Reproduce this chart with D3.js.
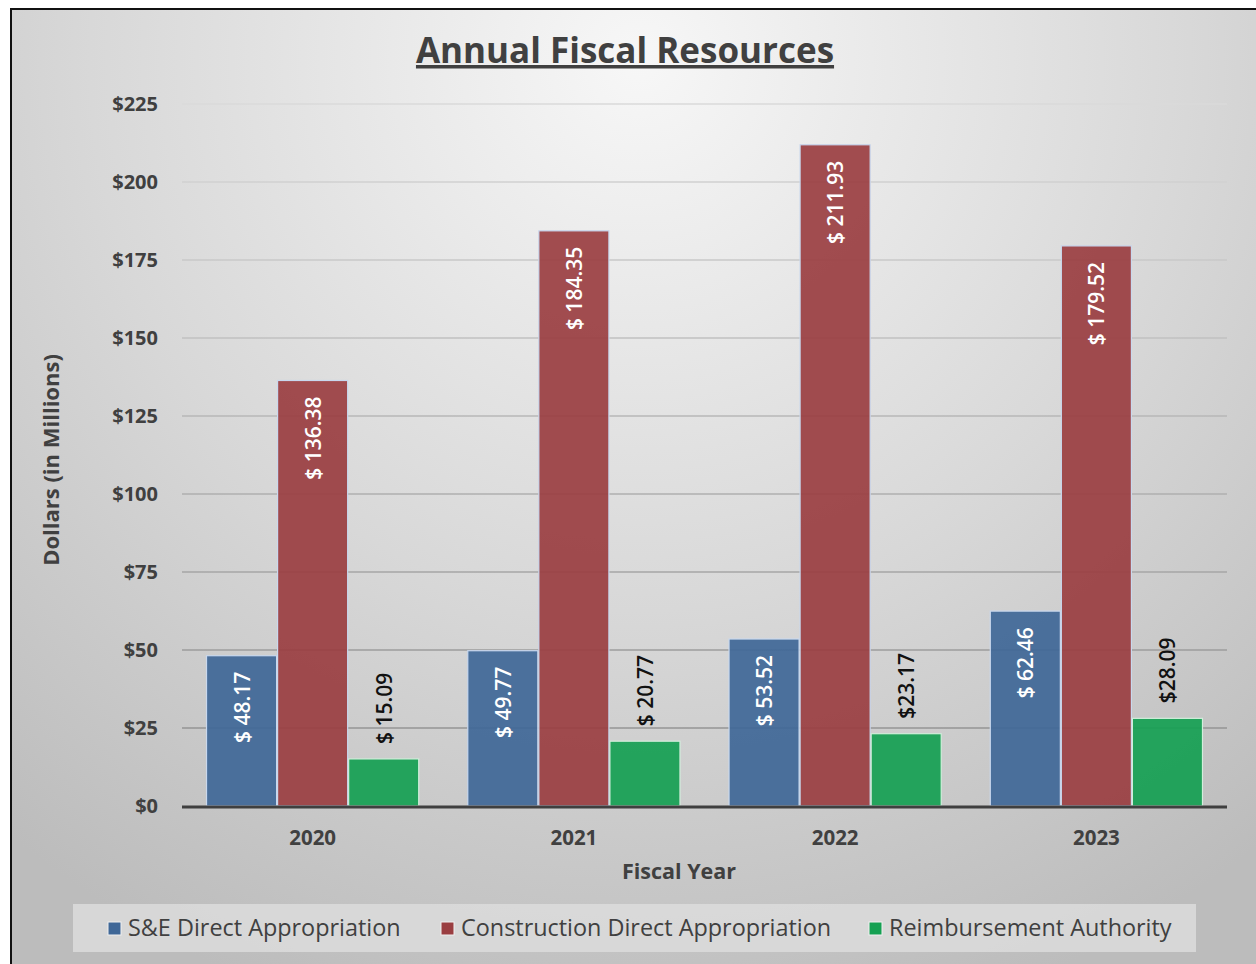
<!DOCTYPE html>
<html><head><meta charset="utf-8">
<script src="https://cdn.jsdelivr.net/npm/d3@7"></script>
<style>html,body{margin:0;padding:0;background:#fff;}svg{display:block;}</style>
</head><body>
<svg id="c" width="1256" height="964"></svg>
<script>
const years = ["2020","2021","2022","2023"];
const seriesNames = ["S&E Direct Appropriation","Construction Direct Appropriation","Reimbursement Authority"];
const seValues = [48.17, 49.77, 53.52, 62.46];
const constructionValues = [136.38, 184.35, 211.93, 179.52];
const reimbursementValues = [15.09, 20.77, 23.17, 28.09];
const seLabels = ["$ 48.17","$ 49.77","$ 53.52","$ 62.46"];
const constructionLabels = ["$ 136.38","$ 184.35","$ 211.93","$ 179.52"];
const reimbursementLabels = ["$ 15.09","$ 20.77","$23.17","$28.09"];
const yTicks = [0,25,50,75,100,125,150,175,200,225];
const colors = ["#3f6797","#9a3e41","#15a052"];

const svg = d3.select("#c");
const font = "'Open Sans', 'DejaVu Sans', sans-serif";
const txt = "#404040";

// background
const defs = svg.append("defs");
const rg = defs.append("radialGradient").attr("id","bg")
  .attr("gradientUnits","userSpaceOnUse").attr("cx",640).attr("cy",60).attr("r",1000);
rg.append("stop").attr("offset","0").attr("stop-color","#f7f7f7");
rg.append("stop").attr("offset","0.55").attr("stop-color","#d8d8d8");
rg.append("stop").attr("offset","1").attr("stop-color","#bcbcbc");
svg.append("rect").attr("x",11).attr("y",9).attr("width",1245).attr("height",955).attr("fill","url(#bg)");
svg.append("line").attr("x1",10).attr("x2",1256).attr("y1",9).attr("y2",9).attr("stroke","#111").attr("stroke-width",2);
svg.append("line").attr("x1",11).attr("x2",11).attr("y1",8).attr("y2",964).attr("stroke","#111").attr("stroke-width",2);

// scales
const pLeft = 182, pRight = 1227, pTop = 104, pBottom = 806;
const y = d3.scaleLinear().domain([0,225]).range([pBottom, pTop]);
const x0 = d3.scaleBand().domain(years).range([pLeft,pRight]).paddingInner(0.184).paddingOuter(0.092);
const x1 = d3.scaleBand().domain(seriesNames).range([0, x0.bandwidth()]).padding(0);

// gridlines
const gridColor = d3.scaleLinear().domain([pTop,pBottom]).range(["#dadada","#8c8c8c"]);
svg.append("g").selectAll("line").data(yTicks.filter(d=>d>0)).join("line")
  .attr("x1",pLeft).attr("x2",pRight)
  .attr("y1",d=>y(d)).attr("y2",d=>y(d))
  .attr("stroke",d=>gridColor(y(d))).attr("stroke-width",1.5);

// y axis
const yAxis = d3.axisLeft(y).tickValues(yTicks).tickSize(0).tickPadding(24).tickFormat(d=>"$"+d);
const ya = svg.append("g").attr("transform",`translate(${pLeft},0)`).call(yAxis);
ya.select(".domain").remove();
ya.selectAll("text").attr("font-family",font).attr("font-size",20).attr("font-weight","bold").attr("fill",txt);

// bars
const series = [
  {name: seriesNames[0], values: seValues, labels: seLabels, color: colors[0], inside: true},
  {name: seriesNames[1], values: constructionValues, labels: constructionLabels, color: colors[1], inside: true},
  {name: seriesNames[2], values: reimbursementValues, labels: reimbursementLabels, color: colors[2], inside: false}
];
const rows = [];
series.forEach(s => years.forEach((yr,i) => rows.push({yr, s, v: s.values[i], lab: s.labels[i]})));
svg.append("g").selectAll("rect").data(rows).join("rect")
  .attr("x",d=>x0(d.yr)+x1(d.s.name)+0.5)
  .attr("width",x1.bandwidth()-1)
  .attr("y",d=>y(d.v))
  .attr("height",d=>y(0)-y(d.v))
  .attr("fill",d=>d.s.color).attr("fill-opacity",0.92)
  .attr("stroke",d=> d.s.inside ? "#c9d8ee" : "#d2eedb").attr("stroke-width",1.2);

// data labels
svg.append("g").selectAll("text").data(rows).join("text")
  .attr("transform",d=>{
    const cx = x0(d.yr)+x1(d.s.name)+x1.bandwidth()/2;
    const yy = d.s.inside ? y(d.v)+16 : y(d.v)-15;
    return `translate(${cx+8},${yy}) rotate(-90)`;
  })
  .attr("text-anchor",d=>d.s.inside ? "end" : "start")
  .attr("font-family",font).attr("font-size",21).attr("font-weight",600)
  .attr("fill",d=>d.s.inside ? "#ffffff" : "#111111")
  .text(d=>d.lab);

// x axis
svg.append("line").attr("x1",pLeft).attr("x2",pRight).attr("y1",pBottom+1).attr("y2",pBottom+1)
  .attr("stroke","#3f3f3f").attr("stroke-width",3);
const xAxis = d3.axisBottom(x0).tickSize(0).tickPadding(24);
const xa = svg.append("g").attr("transform",`translate(0,${pBottom})`).call(xAxis);
xa.select(".domain").remove();
xa.selectAll("text").attr("font-family",font).attr("font-size",20.5).attr("font-weight","bold").attr("fill",txt);

// titles
svg.append("text").attr("x",625).attr("y",63).attr("text-anchor","middle")
  .attr("font-family",font).attr("font-size",35).attr("font-weight","bold").attr("fill",txt)
  .attr("text-decoration","underline").text("Annual Fiscal Resources");
svg.append("text").attr("x",679).attr("y",879).attr("text-anchor","middle")
  .attr("font-family",font).attr("font-size",21.5).attr("font-weight","bold").attr("fill",txt)
  .text("Fiscal Year");
svg.append("text").attr("transform","translate(59,460) rotate(-90)").attr("text-anchor","middle")
  .attr("font-family",font).attr("font-size",22).attr("font-weight","bold").attr("fill",txt)
  .text("Dollars (in Millions)");

// legend
svg.append("rect").attr("x",73).attr("y",904).attr("width",1123).attr("height",48).attr("fill","#dcdcdc").attr("fill-opacity",0.85);
const legX = [108, 441, 869];
const lg = svg.append("g").selectAll("g").data(series).join("g")
  .attr("transform",(d,i)=>`translate(${legX[i]},922)`);
lg.append("rect").attr("width",13).attr("height",13).attr("fill",d=>d.color)
  .attr("stroke","#f0f0f0").attr("stroke-width",1);
lg.append("text").attr("x",20).attr("y",14).attr("font-family",font).attr("font-size",23.4)
  .attr("fill",txt).text(d=>d.name);
</script>
</body></html>
